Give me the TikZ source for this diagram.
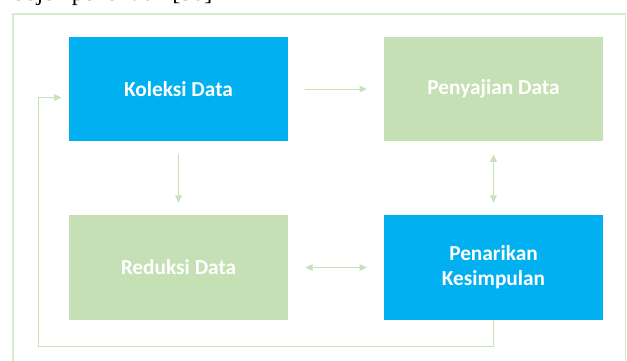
\documentclass[tikz,border=0pt]{standalone}
\usepackage{fontspec}
\setmainfont{Liberation Serif}
\newfontfamily\boxfont{Carlito}
\usetikzlibrary{arrows.meta}

\definecolor{boxblue}{RGB}{0,176,240}
\definecolor{boxgreen}{RGB}{197,224,180}
\definecolor{linegreen}{RGB}{200,226,184}
\definecolor{framegreen}{RGB}{216,234,205}

\tikzset{every picture/.style={line width=0.75pt}}
\tikzset{
  stage/.style={minimum width=164.25pt, minimum height=78.4pt, inner sep=0pt,
    text=white, align=center, font=\boxfont\bfseries\fontsize{16}{18.75}\selectfont},
  flow/.style={draw=linegreen, -{Triangle[length=5.5pt,width=5pt]}},
  twoway/.style={draw=linegreen, {Triangle[length=5.5pt,width=5pt]}-{Triangle[length=5.5pt,width=5pt]}}
}

\begin{document}
\begin{tikzpicture}[x=0.75pt,y=0.75pt,yscale=-1,xscale=1]
	\path[use as bounding box] (0,0) rectangle (627,360);
	\clip (0,0) rectangle (627,360);

	% Caption cut off at the top
	\node[anchor=base west, inner sep=0pt, font=\fontsize{18}{20}\selectfont] (caption) at (12,1) {objek penelitian [30]};

	% Frame
	\draw[framegreen, line width=1.1pt] (13,14) rectangle (625.5,375);

	% Stages
	\node[stage, fill=boxblue] (koleksi) at (178.5,89) {Koleksi Data};
	\node[stage, fill=boxgreen] (penyajian) at (493.5,89) {Penyajian Data};
	\node[stage, fill=boxgreen] (reduksi) at (178.5,267.5) {Reduksi Data};
	\node[stage, fill=boxblue] (penarikan) at (493.5,267.5) {Penarikan\\Kesimpulan};

	% Arrows between stages (yshift is flipped by yscale=-1)
	\draw[flow] ([xshift=12pt]koleksi.east) -- ([xshift=-12.5pt]penyajian.west);
	\draw[flow] ([yshift=9.5pt]koleksi.south) -- ([yshift=-9pt]reduksi.north);
	\draw[twoway] ([yshift=9.5pt]penyajian.south) -- ([yshift=-9pt]penarikan.north);
	\draw[twoway] ([xshift=12.5pt]reduksi.east) -- ([xshift=-12.5pt]penarikan.west);

	% Feedback loop
	\coordinate (loopcorner) at (38,346);
	\coordinate (loopend) at ([xshift=-5.25pt,yshift=6.4pt]koleksi.west);
	\draw[flow] (penarikan.south) -- (penarikan.south |- loopcorner) -- (loopcorner) -- (loopcorner |- loopend) -- (loopend);

\end{tikzpicture}
\end{document}
